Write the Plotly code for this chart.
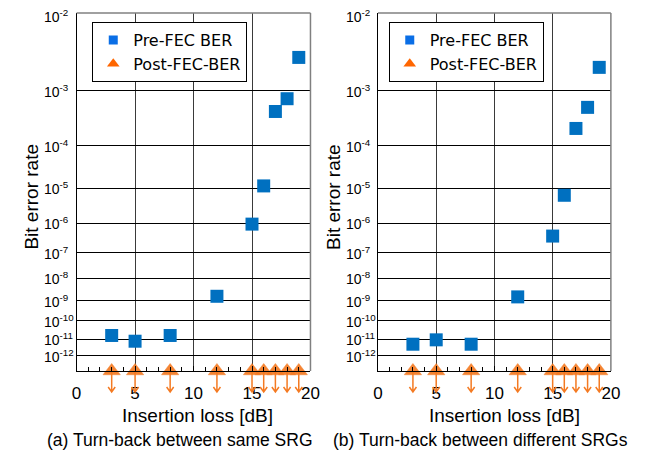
import math
import plotly.graph_objects as go

# ---------------- data ----------------
insertion_loss_db = [3, 5, 8, 12, 15, 16, 17, 18, 19]
pre_fec_ber_same_srg = [1.6e-11, 7.5e-12, 1.6e-11, 1.6e-9, 9.3e-7, 1.15e-5, 4.5e-4, 7.4e-4, 3.0e-3]
pre_fec_ber_diff_srg = [5.0e-12, 9.0e-12, 5.0e-12, 1.5e-9, 3.8e-7, 6.5e-6, 2.2e-4, 5.3e-4, 2.2e-3]
# post-FEC: error free -> plotted at the bottom floor of the axis (1e-13) with down arrows
post_fec_ber_same_srg = [1e-13, 1e-13, 1e-13, 1e-13, 1e-13, 1e-13, 1e-13, 1e-13, 1e-13]
post_fec_ber_diff_srg = [1e-13, 1e-13, 1e-13, 1e-13, 1e-13, 1e-13, 1e-13, 1e-13, 1e-13]
ytick_exponents = [2, 3, 4, 5, 6, 7, 8, 9, 10, 11, 12]
xtick_values = [0, 5, 10, 15, 20]
y_floor_exponent = 13
captions = ["(a) Turn-back between same SRG", "(b) Turn-back between different SRGs"]


def q(ber):
    """BER plotting scale: log10(-log10(BER))"""
    return math.log10(-math.log10(ber))


W, H = 652, 453
OFF = 8  # page body margin offset


def px_x(x):
    return (x - OFF) / W


def px_y(y):
    return 1 - (y - OFF) / H


BLUE = "#0070C0"
ORANGE = "#F47A22"
TICKFONT = "Liberation Sans, Arial, sans-serif"
LEGFONT = "DejaVu Sans, Verdana, sans-serif"

panels = [
    dict(pre=pre_fec_ber_same_srg, post=post_fec_ber_same_srg, x0=73, x1=312,
         xa="x", ya="y", leg="legend", legx=89, ylab_x=26, xlab_x=197, cap_x=179),
    dict(pre=pre_fec_ber_diff_srg, post=post_fec_ber_diff_srg, x0=381, x1=619,
         xa="x2", ya="y2", leg="legend2", legx=392, ylab_x=335, xlab_x=510, cap_x=486),
]

top_px, bot_px = 13, 371
ydom = [px_y(bot_px), px_y(top_px)]
yrange = [math.log10(y_floor_exponent), math.log10(ytick_exponents[0])]

fig = go.Figure()
annotations = []
shapes = []
layout = {}

arrow_top = px_y(372)
arrow_tip = px_y(392)
head_dy = 5 / H

for i, p in enumerate(panels):
    # data traces
    fig.add_trace(go.Scatter(
        x=insertion_loss_db, y=[q(v) for v in p["post"]], mode="markers",
        marker=dict(symbol="triangle-up", size=15, color=ORANGE, opacity=0.92,
                    line=dict(width=1, color="rgba(244,122,34,0.5)")),
        cliponaxis=False, showlegend=False, xaxis=p["xa"], yaxis=p["ya"], hoverinfo="skip"))
    fig.add_trace(go.Scatter(
        x=insertion_loss_db, y=[q(v) for v in p["pre"]], mode="markers",
        marker=dict(symbol="square", size=13, color=BLUE),
        cliponaxis=False, showlegend=False, xaxis=p["xa"], yaxis=p["ya"]))
    # legend entries
    fig.add_trace(go.Scatter(
        x=[None], y=[None], mode="markers", name="Pre-FEC BER",
        marker=dict(symbol="square", size=9, color="#0A6EE6"),
        xaxis=p["xa"], yaxis=p["ya"], legend=p["leg"]))
    fig.add_trace(go.Scatter(
        x=[None], y=[None], mode="markers", name="Post-FEC-BER",
        marker=dict(symbol="triangle-up", size=11, color="#FF6600"),
        xaxis=p["xa"], yaxis=p["ya"], legend=p["leg"]))

    sfx = "" if i == 0 else "2"
    layout["xaxis" + sfx] = dict(
        domain=[px_x(p["x0"]), px_x(p["x1"])], range=[0, 20], anchor="y" + sfx,
        tickvals=xtick_values, showgrid=True, gridcolor="#3a3a3a", gridwidth=1,
        showline=True, linecolor="black", linewidth=1, zeroline=False,
        ticks="inside", ticklen=5, tickcolor="black",
        minor=dict(dtick=1, ticks="inside", ticklen=4, tickcolor="black", showgrid=False),
        tickfont=dict(family=TICKFONT, size=17, color="black"), ticklabelstandoff=7,
    )
    layout["yaxis" + sfx] = dict(
        domain=ydom, range=yrange, anchor="x" + sfx,
        tickvals=[math.log10(k) for k in ytick_exponents], showticklabels=False,
        showgrid=True, gridcolor="black", gridwidth=1,
        showline=True, linecolor="black", linewidth=1, zeroline=False, ticks="",
    )
    layout[p["leg"]] = dict(
        x=px_x(p["legx"]), y=px_y(22), xanchor="left", yanchor="top",
        bgcolor="white", bordercolor="black", borderwidth=1,
        font=dict(family=LEGFONT, size=16, color="black"),
        itemwidth=30, tracegroupgap=0,
    )

    # gray top/right border
    shapes.append(dict(type="line", xref=p["xa"] + " domain", yref=p["ya"] + " domain",
                       x0=0, x1=1, y0=1, y1=1, line=dict(color="#808080", width=1.5)))
    shapes.append(dict(type="line", xref=p["xa"] + " domain", yref=p["ya"] + " domain",
                       x0=1, x1=1, y0=0, y1=1, line=dict(color="#808080", width=1.5)))

    # down arrows under post-FEC triangles (x in data units, y in paper units)
    head_dx = 3.6 * 20 / (p["x1"] - p["x0"])
    for xv in insertion_loss_db:
        path = (f"M {xv},{arrow_top} L {xv},{arrow_tip} "
                f"M {xv - head_dx},{arrow_tip + head_dy} L {xv},{arrow_tip} "
                f"L {xv + head_dx},{arrow_tip + head_dy}")
        shapes.append(dict(type="path", xref=p["xa"], yref="paper", path=path,
                           line=dict(color=ORANGE, width=1.5)))

    # y tick labels (left aligned)
    for k in ytick_exponents:
        annotations.append(dict(
            x=px_x(p["x0"] - 35), xref="paper", y=math.log10(k), yref=p["ya"],
            text=f"10<sup>-{k}</sup>", showarrow=False, xanchor="left", yanchor="middle",
            yshift=-3 if k == ytick_exponents[0] else 0,
            font=dict(family=TICKFONT, size=14, color="black")))

    # axis titles & caption
    annotations.append(dict(
        x=px_x(p["ylab_x"]), y=px_y(197), xref="paper", yref="paper", text="Bit error rate",
        textangle=-90, showarrow=False, xanchor="center", yanchor="middle",
        font=dict(family=TICKFONT, size=19, color="black")))
    annotations.append(dict(
        x=px_x(p["xlab_x"]), y=px_y(415), xref="paper", yref="paper", text="Insertion loss [dB]",
        showarrow=False, xanchor="center", yanchor="middle",
        font=dict(family=TICKFONT, size=19, color="black")))
    annotations.append(dict(
        x=px_x(p["cap_x"]), y=px_y(440), xref="paper", yref="paper", text=captions[i],
        showarrow=False, xanchor="center", yanchor="middle",
        font=dict(family=TICKFONT, size=17.5, color="black")))

fig.update_layout(
    width=W, height=H, margin=dict(l=0, r=0, t=0, b=0),
    paper_bgcolor="white", plot_bgcolor="white",
    annotations=annotations, shapes=shapes, **layout,
)

fig.write_html("out.html")
